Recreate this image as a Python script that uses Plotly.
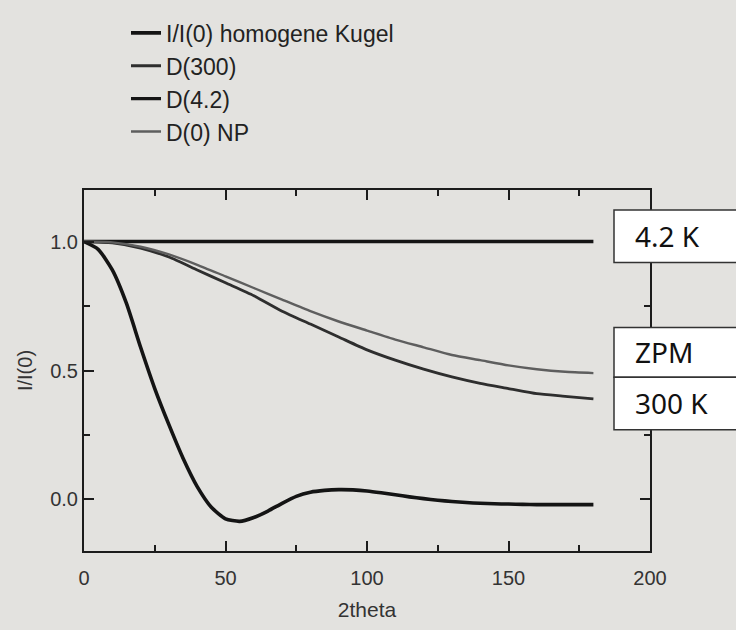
import plotly.graph_objects as go

# ---- data ----
theta_kugel = [0, 5, 10, 15, 20, 25, 30, 35, 40, 45, 50, 55, 60, 65, 70, 75, 80, 85, 90,
               95, 100, 105, 110, 115, 120, 125, 130, 135, 140, 145, 150, 155, 160, 165, 170, 175, 180]
kugel = [1.0, 0.97, 0.89, 0.76, 0.59, 0.43, 0.29, 0.16, 0.05, -0.03, -0.075, -0.085, -0.07, -0.045,
         -0.015, 0.012, 0.028, 0.035, 0.038, 0.037, 0.033, 0.026, 0.018, 0.01, 0.003, -0.003, -0.008,
         -0.012, -0.015, -0.017, -0.018, -0.019, -0.02, -0.02, -0.02, -0.02, -0.02]

theta_d = [0, 10, 20, 30, 40, 50, 60, 70, 80, 90, 100, 110, 120, 130, 140, 150, 160, 170, 180]
d300 = [1.0, 0.995, 0.975, 0.94, 0.89, 0.84, 0.79, 0.73, 0.68, 0.63, 0.58, 0.54, 0.505, 0.475,
        0.45, 0.43, 0.41, 0.40, 0.39]
d0np = [1.0, 0.997, 0.98, 0.95, 0.91, 0.865, 0.82, 0.775, 0.73, 0.69, 0.655, 0.62, 0.59, 0.56,
        0.54, 0.52, 0.505, 0.495, 0.49]
theta_flat = [0, 180]
d42 = [1.0, 1.0]

names = ["I/I(0) homogene Kugel", "D(300)", "D(4.2)", "D(0) NP"]
box_labels = ["4.2 K", "ZPM", "300 K"]

# ---- layout geometry (pixels) ----
W, H = 736, 630
L, R, T, B = 84, 650, 187, 565


def xp(px):
    return (px - L) / (R - L)


def yp(py):
    return (B - py) / (B - T)


BG = "#e3e2df"
INK = "#1c1c1c"

fig = go.Figure()
fig.add_trace(go.Scatter(x=theta_kugel, y=kugel, mode="lines", name=names[0],
                         line=dict(color="#141414", width=3.6, shape="spline", smoothing=0.6)))
fig.add_trace(go.Scatter(x=theta_d, y=d300, mode="lines", name=names[1],
                         line=dict(color="#2e2e2e", width=2.8, shape="spline", smoothing=0.6)))
fig.add_trace(go.Scatter(x=theta_flat, y=d42, mode="lines", name=names[2],
                         line=dict(color="#151515", width=3.4)))
fig.add_trace(go.Scatter(x=theta_d, y=d0np, mode="lines", name=names[3],
                         line=dict(color="#5e5e5e", width=2.4, shape="spline", smoothing=0.6)))

axis_common = dict(
    showline=True, linecolor=INK, linewidth=2, mirror="ticks",
    ticks="inside", ticklen=10, tickwidth=2, tickcolor=INK,
    showgrid=False, zeroline=False,
    tickfont=dict(family="Liberation Sans, Arial", size=20, color="#333333"),
)

fig.update_layout(
    width=W, height=H,
    margin=dict(l=L, r=W - R, t=T, b=H - B),
    paper_bgcolor=BG, plot_bgcolor=BG,
    showlegend=True,
    legend=dict(
        x=xp(126), y=1.0 + T / (B - T), xanchor="left", yanchor="top",
        bgcolor="rgba(0,0,0,0)", borderwidth=0,
        font=dict(family="Liberation Sans, Arial", size=23, color="#222222"),
        traceorder="normal",
    ),
    xaxis=dict(range=[0, 200], tickmode="linear", tick0=0, dtick=50,
               minor=dict(dtick=25, tick0=0, ticks="inside", ticklen=6, tickcolor=INK, tickwidth=1.6),
               ticklabelstandoff=8,
               title=dict(text="2theta", standoff=14,
                          font=dict(family="Liberation Sans, Arial", size=21, color="#333333")),
               **axis_common),
    yaxis=dict(range=[-0.2, 1.2], tickmode="linear", tick0=0, dtick=0.5, tickformat=".1f",
               minor=dict(dtick=0.25, tick0=0, ticks="inside", ticklen=6, tickcolor=INK, tickwidth=1.6),
               ticklabelstandoff=0,
               title=dict(text="I/I(0)", standoff=12,
                          font=dict(family="Liberation Sans, Arial", size=20, color="#333333")),
               **axis_common),
)

# annotation boxes on the right
boxes = [(208, 263), (331, 383), (383, 438)]
for (top, bot), lab in zip(boxes, box_labels):
    fig.add_shape(type="rect", xref="paper", yref="paper",
                  x0=xp(614), x1=xp(745), y0=yp(bot), y1=yp(top),
                  fillcolor="white", line=dict(color="#333333", width=1.5), layer="above")
    fig.add_annotation(xref="paper", yref="paper", x=xp(633), y=yp((top + bot) / 2),
                       xanchor="left", yanchor="middle", showarrow=False, text=lab,
                       font=dict(family="Noto Sans", size=28, color="#111111"))

fig.write_html(
    "out.html",
    config={"displayModeBar": False},
    post_script="document.body.style.margin='0px';document.body.style.background='%s';" % BG,
)
